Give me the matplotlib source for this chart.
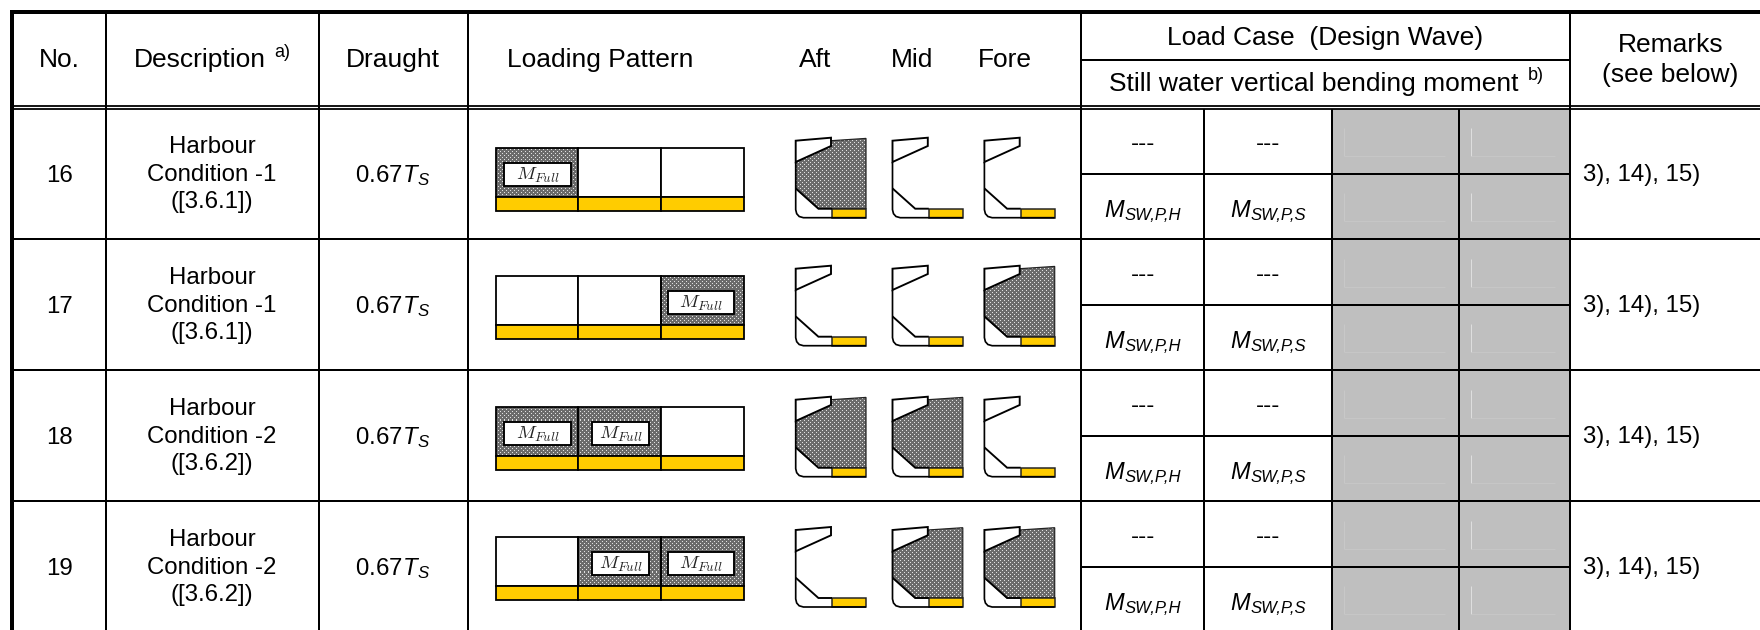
import numpy as np
import matplotlib
matplotlib.use('Agg')
import matplotlib.pyplot as plt
from matplotlib.patches import Polygon, Rectangle

plt.rcParams['font.family'] = ['Liberation Sans', 'DejaVu Sans']
plt.rcParams['mathtext.fontset'] = 'custom'
plt.rcParams['mathtext.rm'] = 'Liberation Sans'
plt.rcParams['mathtext.it'] = 'Liberation Sans:italic'

numbers = ['16', '17', '18', '19']
conditions = ['Condition -1', 'Condition -1', 'Condition -2', 'Condition -2']
references = ['([3.6.1])', '([3.6.1])', '([3.6.2])', '([3.6.2])']
loaded = [[1, 0, 0], [0, 0, 1], [1, 1, 0], [0, 1, 1]]
remark = '3), 14), 15)'
section_names = ['Aft', 'Mid', 'Fore']
moment_subs = ['SW,P,H', 'SW,P,S']

# table grid, pixels
col_x = [12, 106, 319, 468, 1081, 1204, 1332, 1459, 1570]
row_y = [108.9, 239.3, 370.3, 500.7, 630]
mid_y = [174, 305, 436, 567]
hold_x = [495.7, 578, 661, 744]
hold_top = [148, 275.7, 406.7, 537]
icon_x = [795.7, 892.5, 984.4]
icon_top = [137.7, 265.7, 396.7, 527]
box_x = [(504, 571), (592, 649), (667.5, 734)]
moment_x = [1104.6, 1230.5]

YELLOW = '#ffcc00'
GREY = '#bfbfbf'

# icon shapes, pixels from icon top left
wing = [(0, 3), (35.3, 0), (35.3, 8.3), (0, 24.3)]
cargo = [(0, 24.3), (35.3, 8.3), (35.3, 3), (70.3, 0.7), (70.3, 71), (22.7, 71), (0, 50.7)]
hull = [(0, 24.3), (0, 72), (1, 76), (3.5, 78.8), (7.7, 80), (70.3, 80)]
hopper = [(0, 50.7), (22.7, 71), (36.3, 71)]


def px(w):
    return w * 72 / 100


fig = plt.figure(figsize=(17.6, 6.3), dpi=100)
ax = fig.add_axes([0, 0, 1, 1])
ax.set_xlim(0, 1760)
ax.set_ylim(630, 0)
ax.axis('off')

# stipple texture for the loaded holds
yy, xx = np.indices((630, 1760))
stipple = np.full((630, 1760), 0.42)
stipple[(xx % 4 == 0) & (yy % 4 == 0)] = 0.88
stipple[((xx + 2) % 4 == 0) & ((yy + 2) % 4 == 0)] = 0.88


def line(xs, ys, w=2, color='black', z=5):
    ax.plot(xs, ys, color=color, lw=px(w), solid_capstyle='butt', solid_joinstyle='miter', zorder=z)


def stippled(patch):
    ax.add_patch(patch)
    im = ax.imshow(stipple, cmap='gray', vmin=0, vmax=1, extent=(0, 1760, 630, 0),
                   interpolation='nearest', aspect='auto', zorder=2)
    im.set_clip_path(patch)


def draw_section(x0, y0, full):
    pts = lambda shape: [(x0 + a, y0 + b) for a, b in shape]
    if full:
        stippled(Polygon(pts(cargo), closed=True, fc='none', ec='none'))
        ax.add_patch(Polygon(pts(cargo), closed=True, fc='none', ec='#222222', lw=px(1.2), zorder=3))
    ax.add_patch(Polygon(pts(wing), closed=True, fc='white', ec='black', lw=px(1.9), zorder=4))
    ax.add_patch(Rectangle((x0 + 36.3, y0 + 71), 34, 9, fc=YELLOW, ec='#222222', lw=px(1.5), zorder=4))
    xs, ys = zip(*pts(hull))
    line(xs, ys, 1.7, z=4)
    xs, ys = zip(*pts(hopper))
    line(xs, ys, 1.9, z=4)


# grey cells and their faint marks
ax.add_patch(Rectangle((col_x[6], row_y[0]), col_x[8] - col_x[6], 630 - row_y[0], fc=GREY, ec='none', zorder=1))
for mid in mid_y:
    for cy in (mid - 46, mid + 19):
        line([1344, 1344], [cy, cy + 28], 0.8, '#cbcbcb', 2)
        line([1344, 1445], [cy + 28, cy + 28], 0.8, '#c8c8c8', 2)
        line([1471, 1471], [cy, cy + 28], 1.0, '#dedede', 2)
        line([1471, 1555], [cy + 28, cy + 28], 0.8, '#c8c8c8', 2)

# grid
line([10, 1760], [11.7, 11.7], 4)
line([12, 12], [10, 630], 4)
line([14, 1760], [105.7, 105.7], 1.8)
line([14, 1760], [108.9, 108.9], 1.8)
for x in col_x[1:5] + col_x[8:]:
    line([x, x], [12, 630])
for x in col_x[5:8]:
    line([x, x], [108.9, 630])
line([col_x[4], col_x[8]], [60, 60])
for y in row_y[1:4]:
    line([14, 1760], [y, y])
for y in mid_y:
    line([col_x[4], col_x[8]], [y, y])

# header
hdr = dict(fontsize=19, ha='center', va='baseline', color='black', zorder=6)
body = dict(fontsize=17.3, ha='center', va='baseline', color='black', zorder=6)
ax.text(59, 66.7, 'No.', **hdr)
ax.text(200, 66.7, 'Description', **hdr)
ax.text(282, 57, 'a)', fontsize=13, ha='center', va='baseline', zorder=6)
ax.text(393, 66.7, 'Draught', **hdr)
ax.text(600.5, 66.7, 'Loading Pattern', **hdr)
for name, x in zip(section_names, [815, 912, 1005]):
    ax.text(x, 66.7, name, **hdr)
ax.text(1325, 45, 'Load Case  (Design Wave)', **hdr)
ax.text(1314, 90.7, 'Still water vertical bending moment', **hdr)
ax.text(1536, 80, 'b)', fontsize=13, ha='center', va='baseline', zorder=6)
ax.text(1670.5, 51.7, 'Remarks', **hdr)
ax.text(1670.5, 81.7, '(see below)', **hdr)

# rows
for i, mid in enumerate(mid_y):
    dy = mid - 174
    ax.text(59, 181.7 + dy, numbers[i], **body)
    ax.text(212, 153.3 + dy, 'Harbour', **body)
    ax.text(212, 180.7 + dy, conditions[i], **body)
    ax.text(212, 208 + dy, references[i], **body)
    ax.text(393, 181.7 + dy, r'0.67$\hspace{0.06}\mathit{T_S}$', **body)
    ax.text(1583, 181 + dy, remark, fontsize=17.3, ha='left', va='baseline', zorder=6)
    for x, sub in zip(moment_x, moment_subs):
        ax.text(x + 38, 150 + dy, '---', **body)
        ax.text(x, 216.7 + dy, 'M', fontsize=17, style='italic', ha='left', va='baseline', zorder=6)
        ax.text(x + 20, 219.7 + dy, sub, fontsize=12, style='italic', ha='left', va='baseline', zorder=6)

    top = hold_top[i]
    for j in range(3):
        cell = Rectangle((hold_x[j], top), hold_x[j + 1] - hold_x[j], 49.3, fc='white', ec='black', lw=px(1.8), zorder=3)
        if loaded[i][j]:
            stippled(Rectangle((hold_x[j], top), hold_x[j + 1] - hold_x[j], 49.3, fc='none', ec='none'))
            cell.set_facecolor('none')
            x0, x1 = box_x[j]
            ax.add_patch(Rectangle((x0, top + 15), x1 - x0, 23, fc='white', ec='black', lw=px(1.9), zorder=4))
            ax.text((x0 + x1) / 2, top + 32, r'$M_{Full}$', fontsize=13.5, ha='center', va='baseline',
                    math_fontfamily='cm', color='#222222', zorder=6)
        ax.add_patch(cell)
        ax.add_patch(Rectangle((hold_x[j], top + 49.3), hold_x[j + 1] - hold_x[j], 14, fc=YELLOW, ec='black',
                               lw=px(1.8), zorder=3))
        draw_section(icon_x[j], icon_top[i], loaded[i][j])

fig.savefig('out.png', dpi=100)
